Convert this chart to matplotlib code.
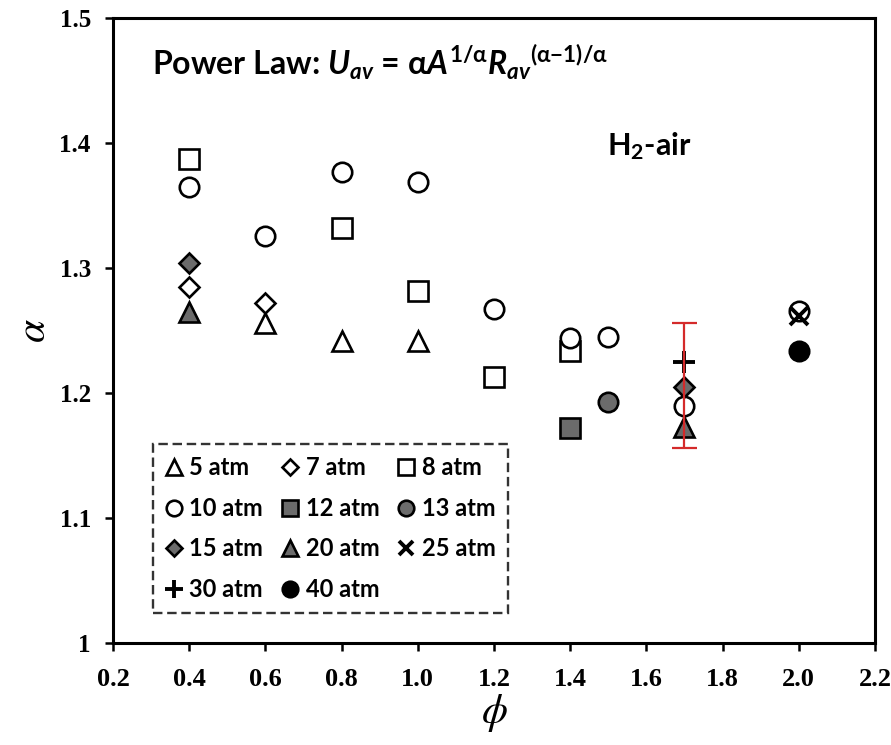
import numpy as np
import matplotlib
matplotlib.use('Agg')
import matplotlib.pyplot as plt

# datos: alpha vs phi para cada presion
phi_5, a_5 = [0.6, 0.8, 1.0], [1.256, 1.242, 1.242]
phi_7, a_7 = [0.4, 0.6], [1.285, 1.272]
phi_8, a_8 = [0.4, 0.8, 1.0, 1.2, 1.4], [1.387, 1.332, 1.282, 1.213, 1.234]
phi_10, a_10 = [0.4, 0.6, 0.8, 1.0, 1.2, 1.4, 1.5, 1.7, 2.0], [1.365, 1.326, 1.377, 1.369, 1.267, 1.244, 1.245, 1.190, 1.266]
phi_12, a_12 = [1.4], [1.172]
phi_13, a_13 = [1.5], [1.193]
phi_15, a_15 = [0.4, 1.7], [1.304, 1.205]
phi_20, a_20 = [0.4, 1.7], [1.265, 1.173]
phi_25, a_25 = [2.0], [1.262]
phi_30, a_30 = [1.7], [1.225]
phi_40, a_40 = [2.0], [1.234]
err_phi, err_a, err_y = [1.7], [1.206], [0.05]

gris = '#6b6b6b'
plt.rcParams['mathtext.fontset'] = 'custom'
plt.rcParams['mathtext.rm'] = 'Lato:bold'
plt.rcParams['mathtext.it'] = 'Lato:italic:bold'
plt.rcParams['mathtext.bf'] = 'Lato:bold'
plt.rcParams['mathtext.fallback'] = 'stix'

fig = plt.figure(figsize=(8.91, 7.45), dpi=100)
ax = fig.add_axes([113/891, 102/745, 762/891, 625/745])

kw = dict(linestyle='none', markeredgecolor='k', markeredgewidth=1.9)
h5, = ax.plot(phi_5, a_5, marker='^', ms=14, mfc='white', label='5 atm', **kw)
h7, = ax.plot(phi_7, a_7, marker='D', ms=10, mfc='white', label='7 atm', **kw)
h8, = ax.plot(phi_8, a_8, marker='s', ms=14, mfc='white', label='8 atm', **kw)
h10, = ax.plot(phi_10, a_10, marker='o', ms=14, mfc='white', label='10 atm', **kw)
h12, = ax.plot(phi_12, a_12, marker='s', ms=14, mfc=gris, label='12 atm', **kw)
h13, = ax.plot(phi_13, a_13, marker='o', ms=14, mfc=gris, label='13 atm', **kw)
h15, = ax.plot(phi_15, a_15, marker='D', ms=10, mfc=gris, label='15 atm', **kw)
h20, = ax.plot(phi_20, a_20, marker='^', ms=14, mfc=gris, label='20 atm', **kw)
h25, = ax.plot(phi_25, a_25, marker='x', ms=13, color='k', linestyle='none', mew=2.8, label='25 atm')
h30, = ax.plot(phi_30, a_30, marker='+', ms=16, color='k', linestyle='none', mew=2.8, label='30 atm')
h40, = ax.plot(phi_40, a_40, marker='o', ms=14, mfc='k', label='40 atm', **kw)

ax.errorbar(err_phi, err_a, yerr=err_y, fmt='none', ecolor='#d42a2a', elinewidth=1.6, capsize=9, capthick=1.6, zorder=5)

ax.set_xlim(0.2, 2.2); ax.set_xticks(np.arange(0.2, 2.21, 0.2))
ax.set_ylim(1.0, 1.5); ax.set_yticks(np.arange(1.0, 1.51, 0.1))
ax.set_xticklabels(['%.1f' % v for v in np.arange(0.2, 2.21, 0.2)],
                   fontfamily='Liberation Serif', fontweight='bold', fontsize=19)
ax.set_yticklabels(['1', '1.1', '1.2', '1.3', '1.4', '1.5'],
                   fontfamily='Liberation Serif', fontweight='bold', fontsize=18)
ax.tick_params(direction='out', length=6, width=1.8, top=False, right=False, pad=10)
ax.tick_params(axis='x', pad=12)
for s in ax.spines.values():
    s.set_linewidth(2.2)

ax.set_xlabel(r'$\phi$', fontsize=30, labelpad=1, math_fontfamily='stix')
ax.set_ylabel(r'$\alpha$', fontsize=30, labelpad=4, math_fontfamily='stix')

ax.text(0.051, 0.909, r'Power Law: $U_{av}$ = $\mathrm{\alpha}A^{1/\mathrm{\alpha}}R_{av}{}^{(\mathrm{\alpha}\mathit{-1})/\mathrm{\alpha}}$',
        transform=ax.transAxes, fontsize=23, fontfamily='Lato', fontweight='bold', va='baseline')
ax.text(0.648, 0.781, r'H$_2$-air', transform=ax.transAxes, fontsize=22,
        fontfamily='Lato', fontweight='bold', va='baseline')

hs = [h5, h10, h15, h30, h7, h12, h20, h40, h8, h13, h25]
leg = ax.legend(handles=hs, ncol=3, loc='lower left', bbox_to_anchor=(0.052, 0.048),
                borderaxespad=0, fancybox=False, edgecolor='k', markerscale=0.8,
                handlelength=0.8, handletextpad=0.25, columnspacing=0.75, labelspacing=0.75,
                borderpad=0.5, prop={'family': 'Lato', 'weight': 'bold', 'size': 17})
leg.get_frame().set_linestyle((0, (4, 2)))
leg.get_frame().set_linewidth(1.7)

fig.savefig('out.png', dpi=100)
